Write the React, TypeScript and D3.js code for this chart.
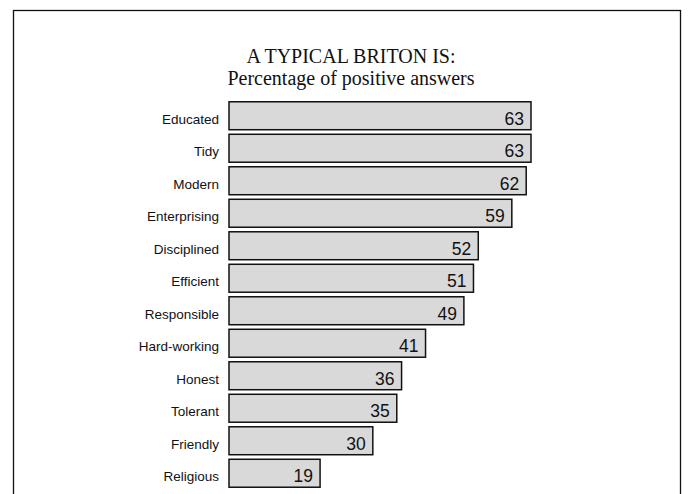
import * as d3 from "d3";
import { useEffect, useRef } from "react";

const traits = [
  "Educated",
  "Tidy",
  "Modern",
  "Enterprising",
  "Disciplined",
  "Efficient",
  "Responsible",
  "Hard-working",
  "Honest",
  "Tolerant",
  "Friendly",
  "Religious",
];
const positive = [63, 63, 62, 59, 52, 51, 49, 41, 36, 35, 30, 19];
const titleLines = ["A TYPICAL BRITON IS:", "Percentage of positive answers"];

const W = 689;
const H = 494;

const App = () => {
  const ref = useRef<SVGSVGElement | null>(null);

  useEffect(() => {
    if (!ref.current) return;
    const svg = d3.select(ref.current);
    svg.selectAll("*").remove();

    // page frame (bottom runs off the picture)
    svg
      .append("rect")
      .attr("x", 13.5)
      .attr("y", 10.5)
      .attr("width", 667)
      .attr("height", 520)
      .attr("fill", "white")
      .attr("stroke", "#111")
      .attr("stroke-width", 1.3);

    svg
      .selectAll("text.title")
      .data(titleLines)
      .enter()
      .append("text")
      .attr("class", "title")
      .attr("x", 351)
      .attr("y", (_, i) => 63 + i * 22)
      .attr("text-anchor", "middle")
      .attr("font-family", "'Liberation Serif', 'Times New Roman', serif")
      .attr("font-size", 20)
      .attr("fill", "#111")
      .text((d) => d);

    const x = d3.scaleLinear().domain([0, 63]).range([229, 531]);
    const y = d3
      .scaleBand()
      .domain(traits)
      .range([99.5, 489.5])
      .paddingInner(0.14)
      .paddingOuter(0.07);

    const rows = svg
      .selectAll("g.row")
      .data(traits)
      .enter()
      .append("g")
      .attr("class", "row");

    rows
      .append("rect")
      .attr("x", x(0))
      .attr("y", (d) => y(d) as number)
      .attr("width", (_, i) => x(positive[i]) - x(0))
      .attr("height", y.bandwidth())
      .attr("fill", "#d9d9d9")
      .attr("stroke", "#111")
      .attr("stroke-width", 1.5);

    rows
      .append("text")
      .attr("x", 219)
      .attr("y", (d) => (y(d) as number) + y.bandwidth() / 2)
      .attr("dy", "0.58em")
      .attr("text-anchor", "end")
      .attr("font-family", "'Liberation Sans', Arial, sans-serif")
      .attr("font-size", 13.5)
      .attr("fill", "#111")
      .text((d) => d);

    rows
      .append("text")
      .attr("x", (_, i) => x(positive[i]) - 7)
      .attr("y", (d) => (y(d) as number) + y.bandwidth() / 2)
      .attr("dy", "0.5em")
      .attr("text-anchor", "end")
      .attr("font-family", "'Liberation Sans', Arial, sans-serif")
      .attr("font-size", 17.5)
      .attr("fill", "#111")
      .text((_, i) => String(positive[i]));
  }, []);

  return (
    <svg
      ref={ref}
      width={W}
      height={H}
      style={{ position: "absolute", left: 0, top: 0, display: "block" }}
    />
  );
};

export default App;
